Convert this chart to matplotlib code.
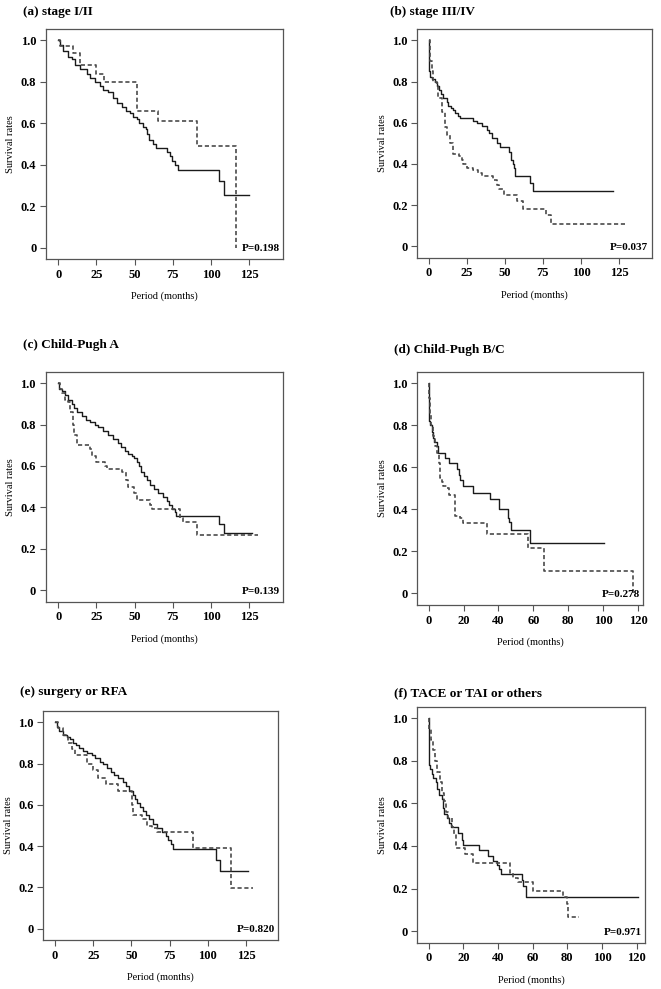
import matplotlib
matplotlib.use("Agg")
import matplotlib.pyplot as plt

plt.rcParams['font.family'] = ['Liberation Serif', 'DejaVu Serif']

# ---- data (Kaplan-Meier step curves) ----
# (a) stage I/II
a_solid_t = [0, 1, 3.3, 6.5, 8.7, 11, 14, 18.5, 20.7, 24, 27, 29.5, 32.7, 36, 38.6, 41.4, 44.3, 47, 49,
             51.3, 53, 55.2, 57.4, 58, 59.6, 61.7, 64, 71, 73, 74.2, 76.4, 78, 105.4, 108.4, 125]
a_solid_s = [1.0, 0.98, 0.95, 0.92, 0.91, 0.88, 0.86, 0.84, 0.82, 0.80, 0.78, 0.76, 0.75, 0.72, 0.70, 0.68,
             0.66, 0.65, 0.63, 0.62, 0.60, 0.58, 0.57, 0.55, 0.52, 0.50, 0.48, 0.46, 0.44, 0.42, 0.40, 0.375,
             0.32, 0.255, 0.255]
a_dash_t = [0, 1, 9.4, 14.2, 25, 30, 51.3, 65.4, 91, 116.3]
a_dash_s = [1.0, 0.975, 0.94, 0.88, 0.84, 0.80, 0.66, 0.61, 0.49, 0.0]

# (b) stage III/IV
b_solid_t = [0, 0.3, 0.9, 2, 4.2, 5.7, 7, 8, 9.6, 11.8, 12.9, 14.4, 16.2, 17.3, 19, 20.5, 29.3, 31.5, 34.7,
             38, 39.8, 41.3, 44.6, 46.8, 52.9, 53.8, 55, 56, 56.6, 66.4, 68.2, 121]
b_solid_s = [1.0, 0.85, 0.82, 0.81, 0.80, 0.78, 0.76, 0.74, 0.72, 0.70, 0.68, 0.67, 0.66, 0.645, 0.635, 0.625,
             0.61, 0.60, 0.585, 0.565, 0.55, 0.525, 0.50, 0.48, 0.46, 0.42, 0.40, 0.38, 0.34, 0.31, 0.27, 0.27]
b_dash_t = [0, 0.9, 2, 3, 5.2, 6.3, 8.5, 10.7, 12.2, 14, 15.7, 20, 21.6, 22.7, 25.3, 29.3, 32.6, 34.7, 42.4,
            44.6, 46.3, 49.4, 57.7, 61.6, 77, 80, 129.8]
b_dash_s = [1.0, 0.9, 0.85, 0.8, 0.78, 0.72, 0.65, 0.58, 0.54, 0.5, 0.45, 0.44, 0.42, 0.40, 0.38, 0.37, 0.355,
            0.34, 0.32, 0.30, 0.28, 0.25, 0.22, 0.18, 0.15, 0.11, 0.11]

# (c) Child-Pugh A
c_solid_t = [0, 0.3, 2.2, 4.4, 6.5, 8.7, 10.3, 12, 15.3, 18.5, 20.7, 24, 26.2, 29.5, 32.7, 36, 39.3, 40.8,
             43.6, 45.8, 48, 49.5, 51.3, 53, 54.5, 56, 57.8, 60, 62.6, 65.4, 68.3, 71, 72.6, 74.2, 76.4, 77.4,
             105.4, 108.4, 127]
c_solid_s = [1.0, 0.97, 0.96, 0.94, 0.92, 0.90, 0.88, 0.86, 0.84, 0.82, 0.81, 0.80, 0.79, 0.77, 0.75, 0.73,
             0.71, 0.69, 0.67, 0.66, 0.65, 0.64, 0.62, 0.60, 0.57, 0.55, 0.53, 0.51, 0.49, 0.47, 0.45, 0.43,
             0.41, 0.39, 0.38, 0.36, 0.32, 0.275, 0.275]
c_dash_t = [0, 1, 2.2, 4.4, 6.5, 8, 9.4, 10.3, 12, 20.7, 21.8, 25, 30.5, 32, 42, 44.3, 45.8, 49.5, 51.7, 60,
            61.7, 79.6, 81.4, 91, 131]
c_dash_s = [1.0, 0.97, 0.95, 0.92, 0.91, 0.86, 0.80, 0.75, 0.70, 0.68, 0.65, 0.62, 0.60, 0.585, 0.57, 0.53,
            0.50, 0.47, 0.435, 0.41, 0.39, 0.35, 0.33, 0.265, 0.265]

# (d) Child-Pugh B/C
d_solid_t = [0, 0.2, 0.8, 1.7, 2.3, 3, 4.6, 5.2, 9.4, 11.5, 16.4, 17.4, 18.2, 19.9, 25.6, 35.2, 40.5, 45.7,
             46.2, 47, 58.1, 100.5]
d_solid_s = [1.0, 0.82, 0.80, 0.77, 0.74, 0.72, 0.70, 0.67, 0.645, 0.62, 0.59, 0.565, 0.54, 0.51, 0.48, 0.45,
             0.40, 0.36, 0.34, 0.30, 0.24, 0.24]
d_dash_t = [0, 0.4, 0.8, 1.5, 2.3, 3.8, 5, 5.7, 6.5, 7.5, 8.4, 10.3, 11.8, 15, 18, 19.9, 33.6, 57.1, 66.1,
            117.3]
d_dash_s = [1.0, 0.93, 0.85, 0.80, 0.75, 0.70, 0.67, 0.62, 0.55, 0.53, 0.51, 0.50, 0.47, 0.37, 0.36, 0.335,
            0.285, 0.215, 0.105, 0.0]

# (e) surgery or RFA
e_solid_t = [0, 1.1, 2.8, 5.5, 7.6, 9.8, 11.6, 13.7, 15.9, 18.1, 21.2, 24, 26.2, 29.5, 31.6, 33.8, 36.4,
             38.6, 41.4, 44.3, 46.5, 48.6, 50.8, 52.4, 53.9, 55.6, 57.4, 59.6, 61.7, 63.9, 67, 69.8, 72.6,
             74.2, 75.7, 77.4, 105.4, 108, 126]
e_solid_s = [1.0, 0.98, 0.96, 0.94, 0.93, 0.92, 0.90, 0.89, 0.875, 0.86, 0.85, 0.84, 0.83, 0.81, 0.80, 0.78,
             0.76, 0.745, 0.73, 0.71, 0.69, 0.67, 0.65, 0.63, 0.61, 0.59, 0.57, 0.55, 0.53, 0.51, 0.49, 0.47,
             0.45, 0.43, 0.41, 0.385, 0.335, 0.28, 0.28]
e_dash_t = [0, 2.2, 5, 8.7, 10.9, 13, 20.7, 24.7, 28.4, 33.4, 41.4, 50.2, 51.3, 56.7, 60, 63.3, 66.5, 90.5,
            115, 129.8]
e_dash_s = [1.0, 0.975, 0.94, 0.90, 0.87, 0.84, 0.80, 0.77, 0.73, 0.70, 0.67, 0.60, 0.55, 0.53, 0.50, 0.49,
            0.47, 0.39, 0.195, 0.195]

# (f) TACE or TAI or others
f_solid_t = [0, 0.2, 0.8, 1.7, 2.7, 4.2, 5, 5.8, 7.5, 8.1, 8.5, 8.8, 10.4, 11.5, 12.7, 17.1, 19, 20, 29.2,
             34.4, 37.3, 39.2, 40.8, 41.5, 53.7, 54.6, 56.2, 121]
f_solid_s = [1.0, 0.78, 0.76, 0.74, 0.72, 0.70, 0.67, 0.64, 0.62, 0.60, 0.58, 0.55, 0.53, 0.51, 0.49, 0.46,
             0.43, 0.405, 0.38, 0.355, 0.33, 0.31, 0.29, 0.27, 0.24, 0.21, 0.16, 0.16]
f_dash_t = [0, 0.4, 1.3, 2.3, 3.7, 5, 6.5, 7.7, 8.8, 10, 11.3, 13.3, 14.6, 15.8, 21, 25.4, 46.9, 48.5, 51.7,
            60.4, 77.7, 80, 80.6, 86.9]
f_dash_s = [1.0, 0.95, 0.90, 0.85, 0.80, 0.75, 0.70, 0.65, 0.61, 0.56, 0.53, 0.49, 0.455, 0.39, 0.36, 0.32,
            0.275, 0.25, 0.23, 0.19, 0.16, 0.125, 0.065, 0.065]

titles = ["(a) stage I/II", "(b) stage III/IV", "(c) Child-Pugh A",
          "(d) Child-Pugh B/C", "(e) surgery or RFA", "(f) TACE or TAI or others"]
p_values = ["P=0.198", "P=0.037", "P=0.139", "P=0.278", "P=0.820", "P=0.971"]
xticks_25 = [0, 25, 50, 75, 100, 125]
xticks_20 = [0, 20, 40, 60, 80, 100, 120]
yticks = [0, 0.2, 0.4, 0.6, 0.8, 1.0]
ytick_labels = ["0", "0.2", "0.4", "0.6", "0.8", "1.0"]

panels = [
    (a_solid_t, a_solid_s, a_dash_t, a_dash_s, xticks_25, (-8, 147)),
    (b_solid_t, b_solid_s, b_dash_t, b_dash_s, xticks_25, (-7.5, 146.5)),
    (c_solid_t, c_solid_s, c_dash_t, c_dash_s, xticks_25, (-8.2, 147.3)),
    (d_solid_t, d_solid_s, d_dash_t, d_dash_s, xticks_20, (-6.5, 123)),
    (e_solid_t, e_solid_s, e_dash_t, e_dash_s, xticks_25, (-7.7, 146.1)),
    (f_solid_t, f_solid_s, f_dash_t, f_dash_s, xticks_20, (-6.6, 124.8)),
]

# axes rectangles in figure fractions [left, bottom, width, height]
rects = [
    [0.0696, 0.7381, 0.3586, 0.2326],
    [0.6313, 0.7394, 0.3550, 0.2313],
    [0.0691, 0.3916, 0.3595, 0.2326],
    [0.6313, 0.3883, 0.3419, 0.2359],
    [0.0655, 0.0495, 0.3555, 0.2315],
    [0.6313, 0.0468, 0.3445, 0.2386],
]
# title anchor (x, y) in pixels from top-left
title_px = [(23, 12), (390, 12), (23, 345), (394, 350), (20, 692), (394, 693)]

W, H = 661, 989
fig = plt.figure(figsize=(W / 100, H / 100), dpi=100)

for i, (st, ss, dt, ds, xt, xl) in enumerate(panels):
    ax = fig.add_axes(rects[i])
    ax.step(st, ss, where='post', color='#1a1a1a', lw=1.0)
    ax.step(dt, ds, where='post', color='#4a4a4a', lw=1.2, linestyle=(0, (2.5, 1.6)))
    ax.set_xlim(*xl)
    ax.set_ylim(-0.055, 1.055)
    ax.set_xticks(xt)
    ax.set_yticks(yticks)
    ax.set_yticklabels(ytick_labels)
    for sp in ax.spines.values():
        sp.set_color('#555555')
        sp.set_linewidth(0.9)
    ax.tick_params(direction='out', length=4, width=0.8, color='#555555',
                   labelsize=9, pad=3)
    for lab in ax.get_xticklabels() + ax.get_yticklabels():
        lab.set_fontweight('bold')
    ax.set_xlabel("Period (months)", fontsize=7.5, labelpad=8)
    ax.set_ylabel("Survival rates", fontsize=7.5, labelpad=4)
    ax.text(0.985, 0.025, p_values[i], transform=ax.transAxes, ha='right', va='bottom',
            fontsize=8, fontweight='bold')
    tx, ty = title_px[i]
    fig.text(tx / W, 1 - ty / H, titles[i], ha='left', va='center', fontsize=9.5, fontweight='bold')

fig.savefig("out.png", dpi=100)
